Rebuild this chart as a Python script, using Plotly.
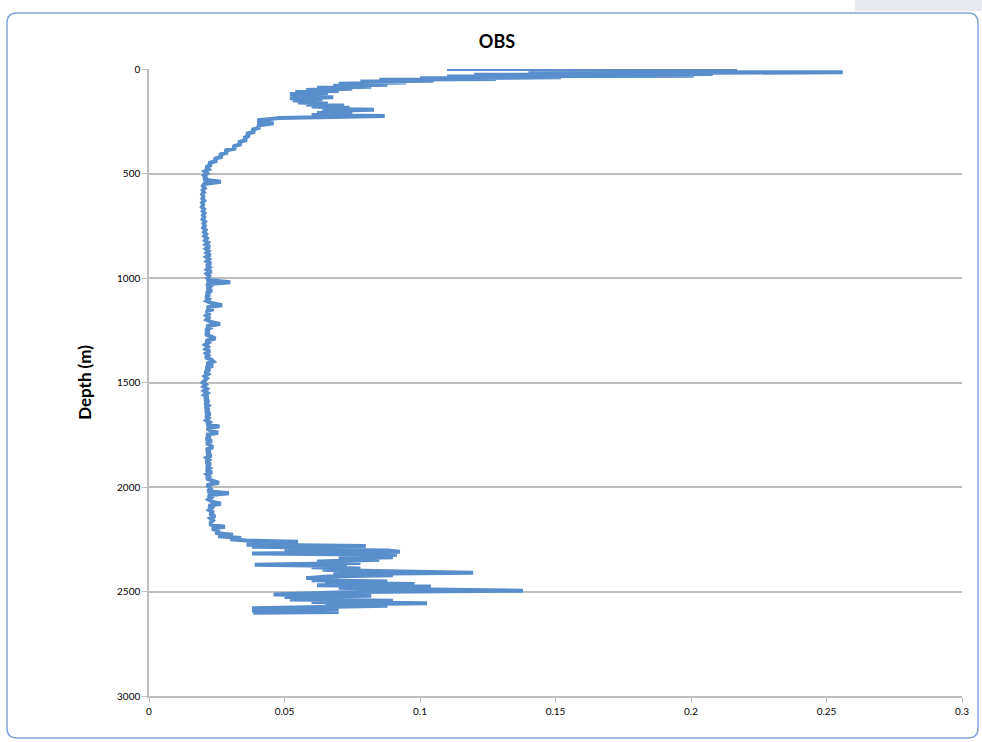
import plotly.graph_objects as go

# ---- data ----
depth_top = [0, 2, 5, 8, 12, 16, 20, 24, 28, 32, 36, 40, 44, 48, 52, 56, 60, 65, 70, 75,
             80, 85, 90, 95, 100, 105, 110, 115, 120, 125, 130, 135, 140, 145, 150, 155,
             160, 165, 170, 175, 180, 185, 190, 195, 200, 205, 210, 215, 220, 225, 230,
             235, 240, 245, 250, 255, 260, 265, 270, 280, 290, 300, 310, 320, 330, 340,
             350, 360, 370, 380, 390, 400, 410, 420, 430, 440, 450, 460, 470, 480, 490, 500]
obs_top = [0.110, 0.217, 0.150, 0.200, 0.140, 0.256, 0.170, 0.208, 0.120, 0.201, 0.110,
           0.152, 0.100, 0.128, 0.085, 0.105, 0.078, 0.095, 0.070, 0.088, 0.068, 0.082,
           0.062, 0.075, 0.058, 0.070, 0.054, 0.066, 0.052, 0.062, 0.054, 0.068, 0.052,
           0.064, 0.053, 0.060, 0.055, 0.066, 0.058, 0.072, 0.060, 0.074, 0.064, 0.083,
           0.066, 0.072, 0.062, 0.075, 0.060, 0.087, 0.055, 0.048, 0.044, 0.040, 0.042,
           0.040, 0.046, 0.041, 0.040, 0.041, 0.038, 0.039, 0.036, 0.037, 0.035, 0.036,
           0.033, 0.034, 0.031, 0.032, 0.028, 0.029, 0.026, 0.027, 0.024, 0.025, 0.022,
           0.023, 0.021, 0.022, 0.0205, 0.0215]

depth_mid = [510, 520, 530, 540, 550, 560, 570, 580, 590, 600,
             610, 620, 630, 640, 650, 660, 670, 680, 690, 700,
             710, 720, 730, 740, 750, 760, 770, 780, 790, 800,
             810, 820, 830, 840, 850, 860, 870, 880, 890, 900,
             910, 920, 930, 940, 950, 960, 970, 980, 990, 1000,
             1010, 1020, 1030, 1040, 1050, 1060, 1070, 1080, 1090, 1100,
             1110, 1120, 1130, 1140, 1150, 1160, 1170, 1180, 1190, 1200,
             1210, 1220, 1230, 1240, 1250, 1260, 1270, 1280, 1290, 1300,
             1310, 1320, 1330, 1340, 1350, 1360, 1370, 1380, 1390, 1400,
             1410, 1420, 1430, 1440, 1450, 1460, 1470, 1480, 1490, 1500,
             1510, 1520, 1530, 1540, 1550, 1560, 1570, 1580, 1590, 1600,
             1610, 1620, 1630, 1640, 1650, 1660, 1670, 1680, 1690, 1700,
             1710, 1720, 1730, 1740, 1750, 1760, 1770, 1780, 1790, 1800,
             1810, 1820, 1830, 1840, 1850, 1860, 1870, 1880, 1890, 1900,
             1910, 1920, 1930, 1940, 1950, 1960, 1970, 1980, 1990, 2000,
             2010, 2020, 2030, 2040, 2050, 2060, 2070, 2080, 2090, 2100,
             2110, 2120, 2130, 2140, 2150, 2160, 2170]
obs_mid = [0.0203, 0.0210, 0.0202, 0.0265, 0.0204, 0.0199, 0.0206, 0.0198, 0.0203, 0.0196,
           0.0201, 0.0197, 0.0204, 0.0196, 0.0200, 0.0195, 0.0203, 0.0198, 0.0205, 0.0199,
           0.0204, 0.0198, 0.0207, 0.0201, 0.0206, 0.0200, 0.0209, 0.0203, 0.0211, 0.0204,
           0.0214, 0.0207, 0.0218, 0.0209, 0.0224, 0.0210, 0.0220, 0.0212, 0.0226, 0.0211,
           0.0222, 0.0213, 0.0228, 0.0212, 0.0224, 0.0214, 0.0230, 0.0213, 0.0222, 0.0215,
           0.0218, 0.0300, 0.0212, 0.0226, 0.0214, 0.0232, 0.0211, 0.0224, 0.0209, 0.0221,
           0.0212, 0.0230, 0.0270, 0.0213, 0.0238, 0.0210, 0.0226, 0.0211, 0.0220, 0.0212,
           0.0228, 0.0262, 0.0213, 0.0224, 0.0209, 0.0222, 0.0208, 0.0230, 0.0245, 0.0210,
           0.0220, 0.0207, 0.0218, 0.0209, 0.0224, 0.0210, 0.0219, 0.0208, 0.0230, 0.0238,
           0.0212, 0.0236, 0.0209, 0.0225, 0.0206, 0.0218, 0.0205, 0.0214, 0.0203, 0.0198,
           0.0210, 0.0201, 0.0214, 0.0203, 0.0216, 0.0204, 0.0218, 0.0205, 0.0221, 0.0206,
           0.0219, 0.0207, 0.0222, 0.0208, 0.0226, 0.0209, 0.0220, 0.0211, 0.0224, 0.0212,
           0.0260, 0.0213, 0.0228, 0.0255, 0.0212, 0.0226, 0.0210, 0.0232, 0.0212, 0.0224,
           0.0236, 0.0211, 0.0226, 0.0213, 0.0230, 0.0212, 0.0222, 0.0210, 0.0227, 0.0212,
           0.0224, 0.0211, 0.0232, 0.0213, 0.0222, 0.0212, 0.0238, 0.0258, 0.0214, 0.0222,
           0.0228, 0.0216, 0.0295, 0.0218, 0.0230, 0.0219, 0.0234, 0.0265, 0.0220, 0.0232,
           0.0222, 0.0238, 0.0224, 0.0244, 0.0226, 0.0236, 0.0228]

depth_bot = [2180, 2190, 2200, 2210, 2220, 2228, 2236, 2244, 2250, 2256, 2262, 2266, 2272,
             2276, 2282, 2286, 2292, 2298, 2304, 2310, 2314, 2318, 2324, 2330, 2336, 2342,
             2348, 2356, 2364, 2372, 2378, 2384, 2390, 2396, 2402, 2410, 2416, 2422, 2428,
             2436, 2440, 2446, 2452, 2458, 2464, 2470, 2476, 2482, 2488, 2496, 2502, 2508,
             2514, 2520, 2526, 2532, 2538, 2544, 2550, 2556, 2562, 2568, 2574, 2580, 2586,
             2592, 2598, 2602]
obs_bot = [0.0228, 0.0280, 0.0232, 0.0260, 0.0245, 0.0310, 0.0255, 0.0340, 0.0300, 0.0360,
           0.0550, 0.0370, 0.0470, 0.0360, 0.0800, 0.0380, 0.0780, 0.0500, 0.0880, 0.0926,
           0.0640, 0.0380, 0.0915, 0.0820, 0.0900, 0.0700, 0.0850, 0.0620, 0.0780, 0.0390,
           0.0730, 0.0600, 0.0780, 0.0640, 0.0830, 0.1196, 0.0680, 0.0900, 0.0660, 0.0580,
           0.0700, 0.0600, 0.0880, 0.0650, 0.0980, 0.0620, 0.1040, 0.0700, 0.0900, 0.1380,
           0.0750, 0.0620, 0.0460, 0.0820, 0.0500, 0.0700, 0.0520, 0.0900, 0.0600, 0.1026,
           0.0650, 0.0880, 0.0600, 0.0380, 0.0700, 0.0380, 0.0700, 0.0385]

depth = depth_top + depth_mid + depth_bot
obs = obs_top + obs_mid + obs_bot

title_text = "OBS"
y_title = "Depth (m)"

# ---- figure ----
W, H = 982, 742
L, R, T, B = 149, 20, 69, 46
pw, ph = W - L - R, H - T - B


def px(x):
    return (x - L) / pw


def py(y):
    return (H - B - y) / ph


fig = go.Figure()
fig.add_trace(go.Scatter(x=obs, y=depth, mode="lines",
                         line=dict(color="rgb(88,142,203)", width=4),
                         showlegend=False, hoverinfo="skip"))

# rounded chart border
x0, x1, y0, y1, r = 7, 978, 13, 738, 10
path = (f"M {px(x0 + r)} {py(y0)} L {px(x1 - r)} {py(y0)} "
        f"Q {px(x1)} {py(y0)} {px(x1)} {py(y0 + r)} "
        f"L {px(x1)} {py(y1 - r)} Q {px(x1)} {py(y1)} {px(x1 - r)} {py(y1)} "
        f"L {px(x0 + r)} {py(y1)} Q {px(x0)} {py(y1)} {px(x0)} {py(y1 - r)} "
        f"L {px(x0)} {py(y0 + r)} Q {px(x0)} {py(y0)} {px(x0 + r)} {py(y0)} Z")
fig.add_shape(type="path", path=path, xref="paper", yref="paper",
              line=dict(color="rgb(130,165,215)", width=1.5), layer="below")
# grey strip at top right
fig.add_shape(type="rect", xref="paper", yref="paper",
              x0=px(855), x1=px(982), y0=py(11), y1=py(0),
              fillcolor="rgb(230,233,240)", line=dict(width=0), layer="below")

fig.update_layout(
    width=W, height=H,
    margin=dict(l=L, r=R, t=T, b=B),
    paper_bgcolor="white", plot_bgcolor="white",
    font=dict(family="Lato, Open Sans, sans-serif", color="black"),
    title=dict(text=f"<b>{title_text}</b>", x=497 / W, xanchor="center", xref="container",
               y=1 - 42 / H, yanchor="middle", font=dict(size=18, color="black")),
    xaxis=dict(range=[0, 0.3], dtick=0.05, tick0=0, showgrid=False, zeroline=False,
               showline=True, linecolor="rgb(190,190,190)", linewidth=1.5,
               ticks="outside", ticklen=5, tickcolor="rgb(190,190,190)",
               tickfont=dict(size=10, color="black"), fixedrange=True),
    yaxis=dict(range=[3000, 0], dtick=500, tick0=0, showgrid=True,
               gridcolor="rgb(190,190,190)", gridwidth=1.5, zeroline=False,
               showline=True, linecolor="rgb(190,190,190)", linewidth=1.5,
               ticks="outside", ticklen=5, tickcolor="rgb(190,190,190)",
               tickfont=dict(size=10, color="black"),
               title=dict(text=f"<b>{y_title}</b>", font=dict(size=17, color="black"),
                          standoff=21), fixedrange=True),
)

fig.write_html("out.html", config={"displayModeBar": False},
               post_script="document.body.style.margin='0';"
                           "document.body.style.overflow='hidden';")
